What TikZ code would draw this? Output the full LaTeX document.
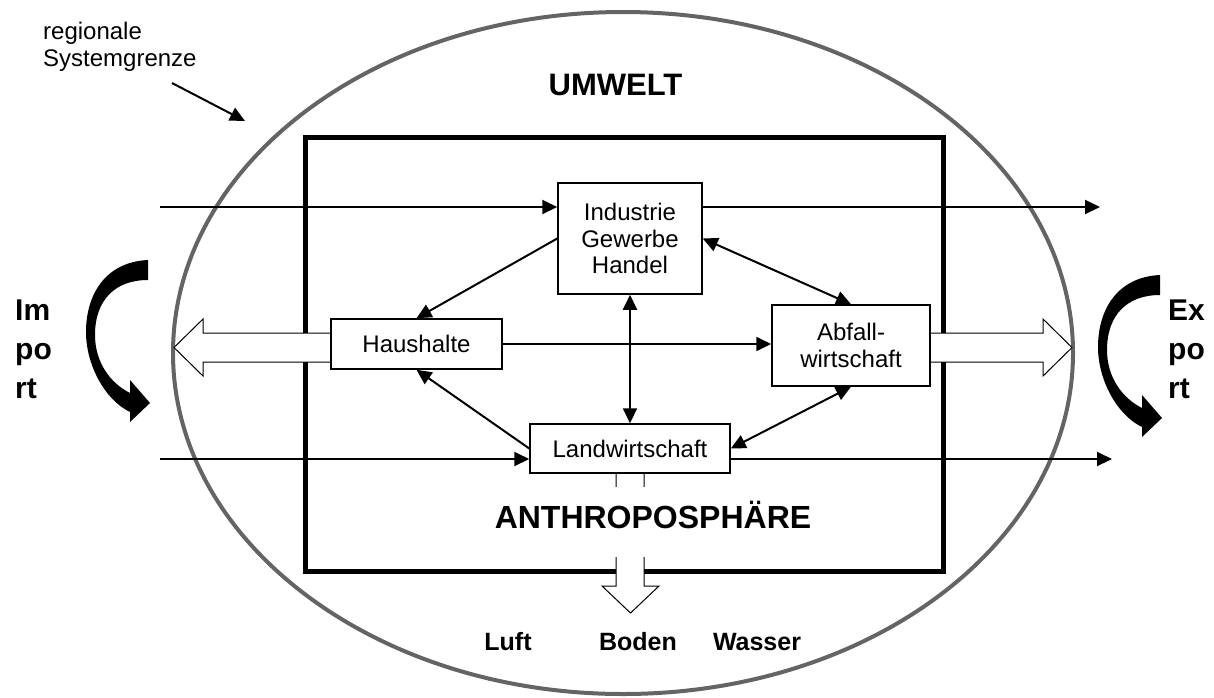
\documentclass[tikz,border=0pt]{standalone}
\usepackage{fontspec}
\setmainfont{Liberation Sans}
\usetikzlibrary{arrows.meta}
\tikzset{
  box/.style={draw, line width=1.5pt, fill=white, inner sep=0pt, align=center,
    font=\fontsize{24}{26.7}\selectfont},
  conn/.style={line width=2pt, -{Triangle[length=15pt,width=14pt]}},
  dconn/.style={line width=2pt, {Triangle[length=15pt,width=14pt]}-{Triangle[length=15pt,width=14pt]}},
  hollow/.style={draw, fill=white, line width=1pt, line join=miter},
  boldlbl/.style={font=\bfseries\fontsize{#1}{#1}\selectfont, anchor=base, inner sep=0pt},
  sidelbl/.style={font=\bfseries\fontsize{30}{39}\selectfont, anchor=north west, align=left, inner sep=0pt},
  curvedarrow/.style={fill=black},
}
\begin{document}
\begin{tikzpicture}[x=1pt,y=-1pt]
\useasboundingbox (0,0) rectangle (1214,697);
% system boundary and anthroposphere frame
\draw[line width=4pt, draw={rgb,255:red,100;green,100;blue,100}] (623,353) ellipse [x radius=450pt, y radius=341pt];
\draw[line width=5pt] (305,137.5) rectangle (943.5,571.5);

% label
\node[anchor=north west, align=left, inner sep=0pt, font=\fontsize{24}{27}\selectfont] (sg) at (43,21.5) {regionale\\Systemgrenze};
\coordinate (sga) at (172,83);
\coordinate (sgb) at (245,121);
\draw[conn] (sga) -- (sgb);

% titles
\node[boldlbl=31] (umw) at (615.5,95) {UMWELT};

% hollow arrows
\path[hollow] (331,333) -- (203,333) -- (203,319) -- (174,347.5) -- (203,376) -- (203,362) -- (331,362);
\path[hollow] (930,333) -- (1043,333) -- (1043,319) -- (1072,347.5) -- (1043,376) -- (1043,362) -- (930,362);
\path[hollow] (616,473) -- (616,586) -- (602,586) -- (630.5,613) -- (659,586) -- (644,586) -- (644,473);

% boxes
\node[box, minimum width=144pt, minimum height=111pt] (ind) at (630,238.5) {Industrie\\Gewerbe\\Handel};
\node[box, minimum width=171pt, minimum height=50pt] (hh) at (416.5,344) {Haushalte};
\node[box, minimum width=158pt, minimum height=81pt] (abf) at (851,345.5) {Abfall-\\wirtschaft};
\node[box, minimum width=200pt, minimum height=49pt] (land) at (630,448.5) {Landwirtschaft};

\node[boldlbl=32, fill=white, text height=29pt, text depth=17pt, inner ysep=12pt, inner xsep=0pt] (anth) at (653,528) {ANTHROPOSPHÄRE};

% flows
\coordinate (imtop) at (160,207);
\coordinate (extop) at (1100,207);
\coordinate (imbot) at (160,459);
\coordinate (exbot) at (1112,459);
\draw[conn] (imtop) -- (imtop -| ind.west);
\draw[conn] (ind.east |- extop) -- (extop);
\draw[conn] (imbot) -- (imbot -| land.west);
\draw[conn] (land.east |- exbot) -- (exbot);
\draw[conn] (hh.east) -- (hh.east -| abf.west);
\draw[conn] (ind.west) -- (hh.north);
\draw[conn] (land.west) -- (hh.south);
\draw[dconn] (ind.south) -- (land.north);
\draw[dconn] (ind.east) -- (abf.north);
\draw[dconn] (abf.south) -- (land.east);

% media
\node[boldlbl=25] (luft) at (508,650) {Luft};
\node[boldlbl=25] (boden) at (638,650) {Boden};
\node[boldlbl=25] (wasser) at (757,650) {Wasser};

% import / export
\node[sidelbl] (imp) at (15,300) {Im\\po\\rt};
\node[sidelbl] (exp) at (1168,300) {Ex\\po\\rt};
\fill[curvedarrow] (148,260) .. controls (105,262) and (86,295) .. (86,332)
  .. controls (86,365) and (105,400) .. (130,412) -- (130,422) -- (150,403) -- (130,380) -- (130,393)
  .. controls (110,383) and (95,362) .. (95,335) .. controls (95,300) and (115,280) .. (148,280) -- cycle;
\begin{scope}[shift={(1012,15)}]
\fill[curvedarrow] (148,260) .. controls (105,262) and (86,295) .. (86,332)
  .. controls (86,365) and (105,400) .. (130,412) -- (130,422) -- (150,403) -- (130,380) -- (130,393)
  .. controls (110,383) and (95,362) .. (95,335) .. controls (95,300) and (115,280) .. (148,280) -- cycle;
\end{scope}
\end{tikzpicture}
\end{document}
